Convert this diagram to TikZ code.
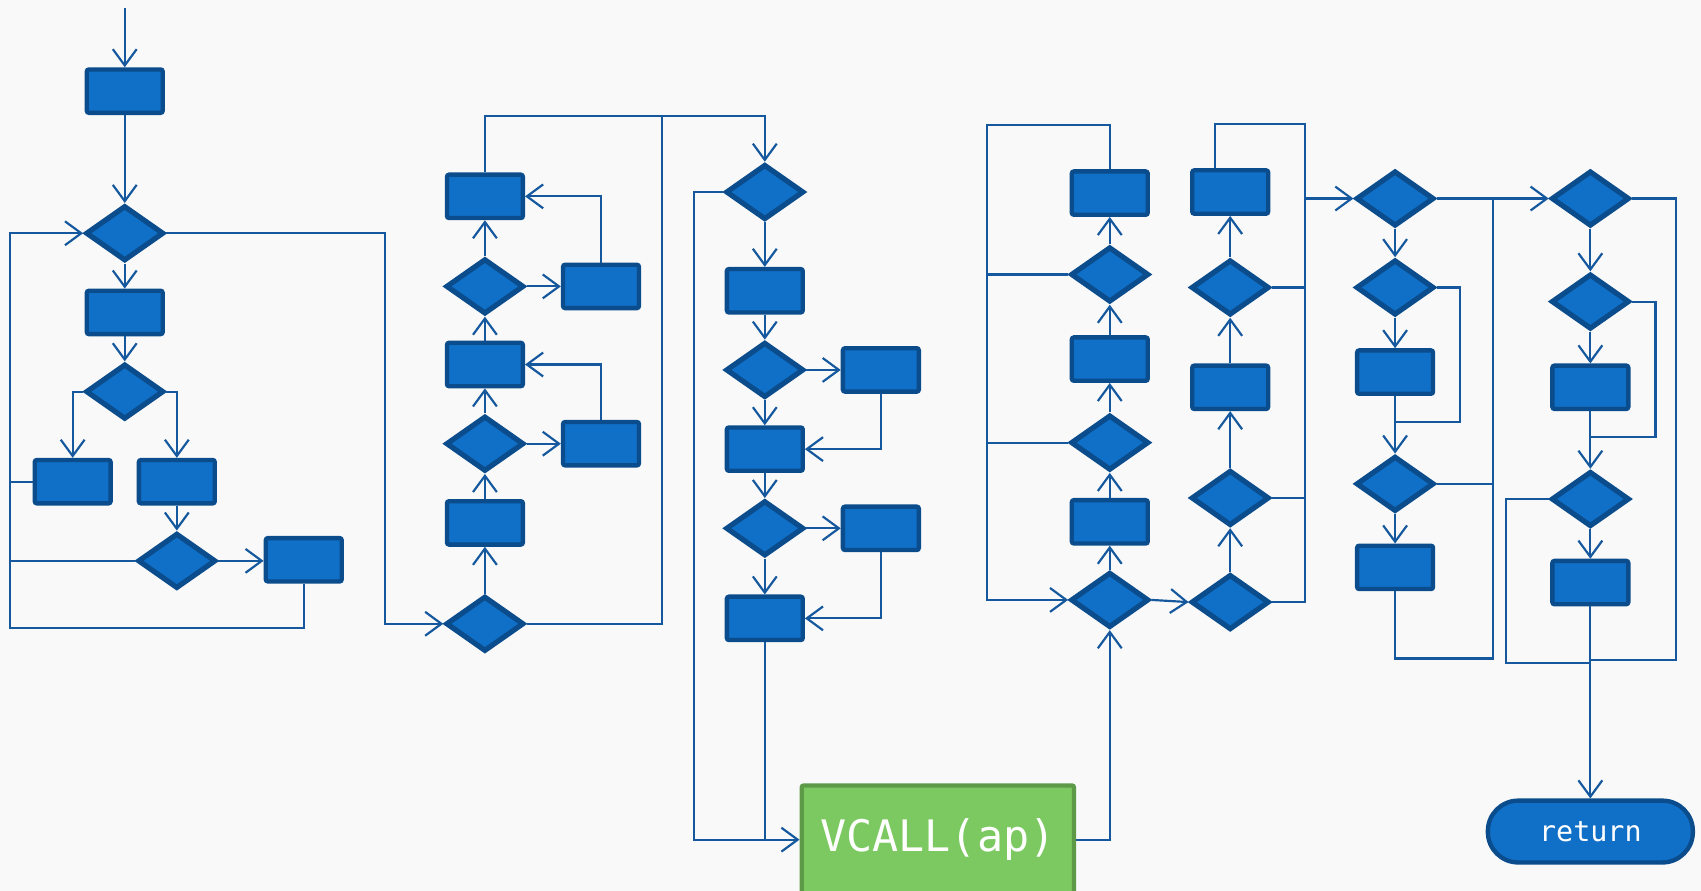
\documentclass[tikz,border=0pt]{standalone}
\usepackage{fontspec}
\newfontfamily\codefont{DejaVu Sans Mono}
\usetikzlibrary{shapes.geometric, arrows.meta}

\definecolor{boxfill}{HTML}{106FC6}
\definecolor{boxedge}{HTML}{0A4C8C}
\definecolor{wirecol}{HTML}{15589D}
\definecolor{callfill}{HTML}{7CC962}
\definecolor{calledge}{HTML}{5C9A47}
\definecolor{paper}{HTML}{F9F9F9}

\tikzset{
  proc/.style={rectangle, draw=boxedge, fill=boxfill, line width=2pt,
    minimum width=35pt, minimum height=20pt, inner sep=0pt, rounded corners=1pt},
  cond/.style={diamond, draw=boxedge, fill=boxfill, line width=2.4pt,
    minimum width=36pt, minimum height=25.5pt, inner sep=0pt},
  wire/.style={draw=wirecol, line width=1pt},
  flow/.style={wire, -{Straight Barb[length=7.5pt,width=11pt,line width=1pt]}},
}

\begin{document}
\begin{tikzpicture}[x=0.5pt, y=-0.5pt]
  \fill[paper] (0,0) rectangle (1568,821);
  \useasboundingbox (0,0) rectangle (1568,821);
  \clip (0,0) rectangle (1568,821);

  % ---- first block: entry and nested branches
  \coordinate (entry) at (115,7);
  \node[proc] (a1) at (115,84) {};
  \node[cond] (a2) at (115,215) {};
  \node[proc] (a3) at (115,288) {};
  \node[cond] (a4) at (115,361) {};
  \node[proc] (a5) at (67,444) {};
  \node[proc] (a6) at (163,444) {};
  \node[cond] (a7) at (163,517) {};
  \node[proc] (a8) at (280,516) {};

  % ---- second block: upward chain
  \node[proc] (b1) at (447,181) {};
  \node[cond] (b2) at (447,264) {};
  \node[proc] (b3) at (554,264) {};
  \node[proc] (b4) at (447,336) {};
  \node[cond] (b5) at (447,409) {};
  \node[proc] (b6) at (554,409) {};
  \node[proc] (b7) at (447,482) {};
  \node[cond] (b8) at (447,575) {};

  % ---- third block: downward chain and the call
  \node[cond] (c1) at (705,177) {};
  \node[proc] (c2) at (705,268) {};
  \node[cond] (c3) at (705,341) {};
  \node[proc] (c4) at (812,341) {};
  \node[proc] (c5) at (705,414) {};
  \node[cond] (c6) at (705,487) {};
  \node[proc] (c7) at (812,487) {};
  \node[proc] (c8) at (705,570) {};
  \node[rectangle, draw=calledge, fill=callfill, line width=2pt,
        minimum width=125.5pt, minimum height=50pt, inner sep=0pt,
        rounded corners=1pt, text=white, font=\codefont\fontsize{20}{22}\selectfont]
        (call) at (864.5,774) {VCALL(ap)};

  % ---- fourth block
  \node[proc] (d1) at (1023,178) {};
  \node[cond] (d2) at (1023,253) {};
  \node[proc] (d3) at (1023,331) {};
  \node[cond] (d4) at (1023,408) {};
  \node[proc] (d5) at (1023,481) {};
  \node[cond] (d6) at (1023,553) {};

  % ---- fifth block
  \node[proc] (e1) at (1134,177) {};
  \node[cond] (e2) at (1134,265) {};
  \node[proc] (e3) at (1134,357) {};
  \node[cond] (e4) at (1134,459) {};
  \node[cond] (e5) at (1134,555) {};

  % ---- sixth block
  \node[cond] (f1) at (1286,183) {};
  \node[cond] (f2) at (1286,265) {};
  \node[proc] (f3) at (1286,343) {};
  \node[cond] (f4) at (1286,446) {};
  \node[proc] (f5) at (1286,523) {};

  % ---- seventh block and exit
  \node[cond] (g1) at (1466,183) {};
  \node[cond] (g2) at (1466,278) {};
  \node[proc] (g3) at (1466,357) {};
  \node[cond] (g4) at (1466,460) {};
  \node[proc] (g5) at (1466,537) {};
  \node[rectangle, draw=boxedge, fill=boxfill, line width=2pt,
        minimum width=94.5pt, minimum height=28.5pt, inner sep=0pt,
        rounded corners=14pt, text=white, font=\codefont\fontsize{13.1}{15}\selectfont]
        (ret) at (1466,766.5) {return};

  % ---- routing corners
  \coordinate (lA) at (9,579);
  \coordinate (lB) at (355,575);
  \coordinate (topB) at (610,107);
  \coordinate (lC) at (640,774);
  \coordinate (lD) at (910,115);
  \coordinate (lE) at (1203,114);
  \coordinate (lF) at (1346,389);
  \coordinate (lG) at (1376,607);
  \coordinate (lH) at (1526,403);
  \coordinate (lI) at (1388,611);
  \coordinate (lJ) at (1545,608);

  % ---- first block connectors
  \draw[flow] (entry) -- (a1.north);
  \draw[flow] (a1.south) -- (a2.north);
  \draw[flow] (a2.south) -- (a3.north);
  \draw[flow] (a3.south) -- (a4.north);
  \draw[flow] (a4.west) -| (a5.north);
  \draw[flow] (a4.east) -| (a6.north);
  \draw[flow] (a6.south) -- (a7.north);
  \draw[flow] (a7.east) -- (a7.east -| a8.west);
  \draw[wire] (a7.west) -- (a7.west -| lA);
  \draw[wire] (a5.west) -- (a5.west -| lA);
  \draw[flow] (a8.south) |- (lA) |- (a2.west);
  \draw[flow] (a2.east) -| (lB) -- (b8.west);

  % ---- second block connectors
  \draw[flow] (b8.north) -- (b7.south);
  \draw[flow] (b7.north) -- (b5.south);
  \draw[flow] (b5.north) -- (b4.south);
  \draw[flow] (b5.east) -- (b6.west);
  \draw[flow] (b6.north) |- (b4.east);
  \draw[flow] (b4.north) -- (b2.south);
  \draw[flow] (b2.north) -- (b1.south);
  \draw[flow] (b2.east) -- (b3.west);
  \draw[flow] (b3.north) |- (b1.east);
  \draw[flow] (b1.north) |- (topB) -| (c1.north);
  \draw[wire] (b8.east) -| (topB);

  % ---- third block connectors
  \draw[flow] (c1.south) -- (c2.north);
  \draw[flow] (c2.south) -- (c3.north);
  \draw[flow] (c3.east) -- (c4.west);
  \draw[flow] (c3.south) -- (c5.north);
  \draw[flow] (c4.south) |- (c5.east);
  \draw[flow] (c5.south) -- (c6.north);
  \draw[flow] (c6.east) -- (c7.west);
  \draw[flow] (c6.south) -- (c8.north);
  \draw[flow] (c7.south) |- (c8.east);
  \draw[flow] (c1.west) -| (lC) -- (call.west);
  \draw[wire] (c8.south) -- (c8.south |- call.west);
  \draw[flow] (call.east) -| (d6.south);

  % ---- fourth block connectors
  \draw[flow] (d6.north) -- (d5.south);
  \draw[flow] (d5.north) -- (d4.south);
  \draw[flow] (d4.north) -- (d3.south);
  \draw[flow] (d3.north) -- (d2.south);
  \draw[flow] (d2.north) -- (d1.south);
  \draw[flow] (d1.north) |- (lD) |- (d6.west);
  \draw[wire] (d2.west) -- (d2.west -| lD);
  \draw[wire] (d4.west) -- (d4.west -| lD);
  \draw[flow] (d6.east) -- (e5.west);

  % ---- fifth block connectors
  \draw[flow] (e5.north) -- (e4.south);
  \draw[flow] (e4.north) -- (e3.south);
  \draw[flow] (e3.north) -- (e2.south);
  \draw[flow] (e2.north) -- (e1.south);
  \draw[wire] ([xshift=-7pt]e1.north) |- (lE) |- (e5.east);
  \draw[wire] (e2.east) -- (e2.east -| lE);
  \draw[wire] (e4.east) -- (e4.east -| lE);
  \draw[flow] (lE |- f1.west) -- (f1.west);

  % ---- sixth block connectors
  \draw[flow] (f1.south) -- (f2.north);
  \draw[flow] (f2.south) -- (f3.north);
  \draw[wire] (f2.east) -| (lF) -- (lF -| f3.south);
  \draw[flow] (f3.south) -- (f4.north);
  \draw[flow] (f4.south) -- (f5.north);
  \draw[wire] (f4.east) -- (f4.east -| lG);
  \draw[wire] (f5.south) |- (lG) -- (lG |- f1.east);
  \draw[flow] (f1.east) -- (g1.west);

  % ---- seventh block connectors
  \draw[flow] (g1.south) -- (g2.north);
  \draw[flow] (g2.south) -- (g3.north);
  \draw[wire] (g2.east) -| (lH) -- (lH -| g3.south);
  \draw[flow] (g3.south) -- (g4.north);
  \draw[flow] (g4.south) -- (g5.north);
  \draw[wire] (g4.west) -| (lI) -- (lI -| g5.south);
  \draw[wire] (g1.east) -| (lJ) -- (lJ -| g5.south);
  \draw[flow] (g5.south) -- (ret.north);
\end{tikzpicture}
\end{document}
